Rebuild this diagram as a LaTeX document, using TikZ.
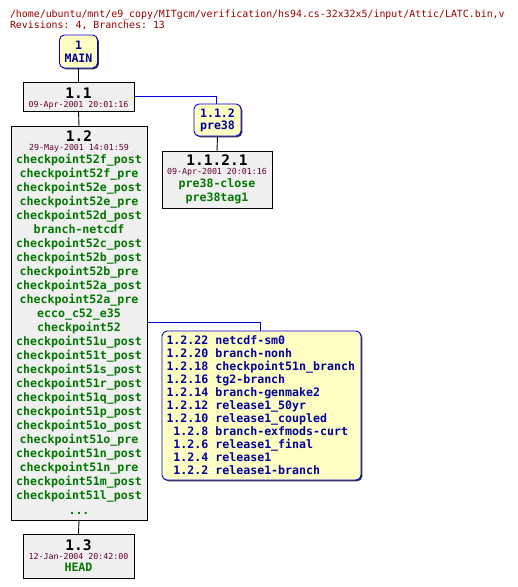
\documentclass[tikz,border=0pt]{standalone}
\usepackage{fontspec}
\setmonofont{DejaVu Sans Mono}
\usetikzlibrary{shadows}
\definecolor{titlered}{HTML}{990000}
\definecolor{datered}{HTML}{660033}
\definecolor{taggreen}{HTML}{007800}
\definecolor{tagblue}{HTML}{0000A0}
\definecolor{lineblue}{HTML}{0000E0}
\definecolor{revfill}{HTML}{F0F0F0}
\definecolor{tagfill}{HTML}{FFFFC4}
\tikzset{
  every node/.style={inner sep=0pt, outer sep=0pt},
  revbox/.style={draw=black, line width=0.9pt, fill=revfill, rectangle,
    drop shadow={shadow xshift=1.3pt, shadow yshift=-1.3pt, fill=black!80, opacity=1}},
  tagbox/.style={draw=lineblue, line width=0.9pt, fill=tagfill, rectangle, rounded corners=5pt,
    drop shadow={shadow xshift=1.3pt, shadow yshift=-1.3pt, fill=black!80, opacity=1}},
  titletxt/.style={anchor=base west, text=titlered, font=\ttfamily\fontsize{9.9}{10}\selectfont},
  revtxt/.style={anchor=base, text=black, font=\ttfamily\bfseries\fontsize{14.5}{15}\selectfont},
  datetxt/.style={anchor=base, text=datered, font=\ttfamily\fontsize{8.3}{9}\selectfont},
  tagtxt/.style={anchor=base, text=taggreen, font=\ttfamily\bfseries\fontsize{11.6}{12}\selectfont},
  bluetxt/.style={anchor=base, text=tagblue, font=\ttfamily\bfseries\fontsize{11.6}{12}\selectfont},
  brtxt/.style={anchor=base west, text=tagblue, font=\ttfamily\bfseries\fontsize{11.6}{12}\selectfont},
  trunk/.style={draw=black, line width=0.9pt},
  branch/.style={draw=lineblue, line width=0.9pt},
}
\begin{document}
\begin{tikzpicture}[x=1pt, y=-1pt]
\useasboundingbox (0,0) rectangle (518,587);
\fill[white] (0,0) rectangle (518,587);

\node[titletxt] (t1) at (10,17) {/home/ubuntu/mnt/e9\_copy/MITgcm/verification/hs94.cs-32x32x5/input/Attic/LATC.bin,v};
\node[titletxt] (t2) at (10,28) {Revisions: 4, Branches: 13};

% boxes
\node[tagbox, minimum width=38, minimum height=33] (main) at (78.5,51.5) {};
\node[revbox, minimum width=111, minimum height=29] (r11) at (78.5,96.5) {};
\node[tagbox, minimum width=47, minimum height=32] (b112) at (217.5,120) {};
\node[revbox, minimum width=110, minimum height=57] (r1121) at (217,179.5) {};
\node[revbox, minimum width=136, minimum height=394] (r12) at (79,323) {};
\node[tagbox, minimum width=199, minimum height=149] (b12) at (261.5,405.5) {};
\node[revbox, minimum width=111, minimum height=44] (r13) at (78.5,556) {};

% connectors
\draw[trunk] (main.south) -- (r11.north);
\draw[trunk] (r11.south) -- (r12.north);
\draw[trunk] (r12.south) -- (r13.north);
\draw[trunk] (b112.south) -- (r1121.north);
\coordinate (c1) at (216.5,96.5);
\draw[branch] (r11.east |- c1) -- (c1) -- (c1 |- b112.north);
\coordinate (c2) at (260.5,322);
\draw[branch] (r12.east |- c2) -- (c2) -- (c2 |- b12.north);

% MAIN
\node[bluetxt] (m1) at (78.5,49) {1};
\node[bluetxt] (m2) at (78.5,62) {MAIN};

% 1.1
\node[revtxt] (n11) at (78.5,98) {1.1};
\node[datetxt] (d11) at (78.5,107) {09-Apr-2001 20:01:16};

% 1.1.2
\node[bluetxt] (n112) at (217.5,117) {1.1.2};
\node[bluetxt] (l112) at (217.5,129.5) {pre38};

% 1.1.2.1
\node[revtxt] (n1121) at (217,165) {1.1.2.1};
\node[datetxt] (d1121) at (217,174) {09-Apr-2001 20:01:16};
\node[tagtxt] (g1) at (217,187.5) {pre38-close};
\node[tagtxt] (g2) at (217,201) {pre38tag1};

% 1.2
\node[revtxt] (n12) at (79,141.5) {1.2};
\node[datetxt] (d12) at (79,150.5) {29-May-2001 14:01:59};
\foreach \t [count=\i from 0] in {checkpoint52f\_post,checkpoint52f\_pre,checkpoint52e\_post,checkpoint52e\_pre,checkpoint52d\_post,branch-netcdf,checkpoint52c\_post,checkpoint52b\_post,checkpoint52b\_pre,checkpoint52a\_post,checkpoint52a\_pre,ecco\_c52\_e35,checkpoint52,checkpoint51u\_post,checkpoint51t\_post,checkpoint51s\_post,checkpoint51r\_post,checkpoint51q\_post,checkpoint51p\_post,checkpoint51o\_post,checkpoint51o\_pre,checkpoint51n\_post,checkpoint51n\_pre,checkpoint51m\_post,checkpoint51l\_post}
  \node[tagtxt] (tag\i) at (79,163+14*\i) {\t};
\node[tagtxt] (more) at (79,514) {...};

% branch list of 1.2
\foreach \t [count=\i from 0] in {1.2.22 netcdf-sm0,1.2.20 branch-nonh,1.2.18 checkpoint51n\_branch,1.2.16 tg2-branch,1.2.14 branch-genmake2,1.2.12 release1\_50yr,1.2.10 release1\_coupled,\hphantom{1}1.2.8 branch-exfmods-curt,\hphantom{1}1.2.6 release1\_final,\hphantom{1}1.2.4 release1,\hphantom{1}1.2.2 release1-branch}
  \node[brtxt] (br\i) at (166.5,344+13*\i) {\t};

% 1.3
\node[revtxt] (n13) at (78.5,550) {1.3};
\node[datetxt] (d13) at (78.5,559) {12-Jan-2004 20:42:00};
\node[tagtxt] (h13) at (78.5,571.5) {HEAD};
\end{tikzpicture}
\end{document}
